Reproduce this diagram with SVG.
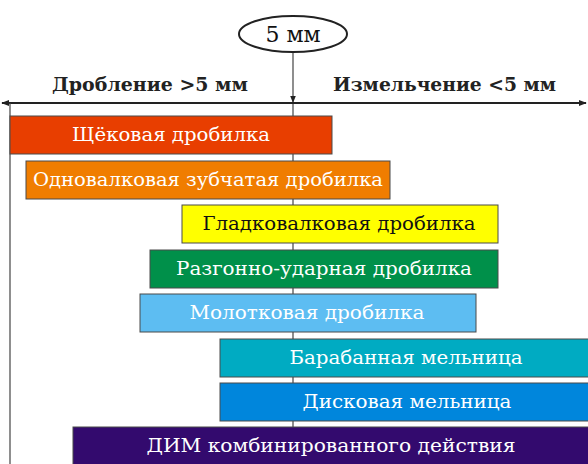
<svg xmlns="http://www.w3.org/2000/svg" width="588" height="464" viewBox="0 0 588 464">
<style>
.bar{stroke:#4a4a4a;stroke-width:1}
.t{font-family:"DejaVu Serif","Liberation Serif",serif;font-size:18px;text-anchor:middle}
.w{fill:#ffffff}
.k{fill:#111111}
.h{font-family:"DejaVu Serif","Liberation Serif",serif;font-size:18px;font-weight:bold;fill:#222}
.ln{stroke:#444;stroke-width:1.2;fill:none}
</style>
<defs>
<marker id="ah" viewBox="0 0 10 10" refX="9" refY="5" markerWidth="8" markerHeight="8" orient="auto-start-reverse" markerUnits="userSpaceOnUse">
<path d="M0,1 L10,5 L0,9 z" fill="#222"/>
</marker>
<marker id="ahs" viewBox="0 0 10 10" refX="10" refY="5" markerWidth="7" markerHeight="7" orient="auto" markerUnits="userSpaceOnUse">
<path d="M0,1 L10,5 L0,9 z" fill="#222"/>
</marker>
</defs>
<g id="connectors">
<line class="ln" x1="293" y1="52" x2="293" y2="103" marker-end="url(#ahs)"/>
<line class="ln" x1="293" y1="103" x2="293" y2="464"/>
<line x1="2" y1="103" x2="586" y2="103" stroke="#222" stroke-width="2" marker-start="url(#ah)" marker-end="url(#ah)"/>
<line class="ln" x1="10" y1="103" x2="10" y2="464"/>
</g>
<g id="threshold">
<ellipse cx="293" cy="34" rx="54" ry="18" fill="#fff" stroke="#222" stroke-width="2"/>
<text x="293" y="42" font-family="DejaVu Serif, Liberation Serif, serif" font-size="22" text-anchor="middle" fill="#111">5 мм</text>
</g>
<g id="labels">
<text class="h" x="52" y="91" textLength="196" lengthAdjust="spacingAndGlyphs">Дробление &gt;5 мм</text>
<text class="h" x="333" y="91" textLength="223" lengthAdjust="spacingAndGlyphs">Измельчение &lt;5 мм</text>
</g>
<g id="n1"><rect class="bar" x="10" y="116" width="322" height="38" fill="#e83e00"/><text class="t w" x="171" y="141" textLength="198" lengthAdjust="spacingAndGlyphs">Щёковая дробилка</text></g>
<g id="n2"><rect class="bar" x="26" y="161" width="364" height="38" fill="#f07d00"/><text class="t w" x="208" y="186" textLength="350" lengthAdjust="spacingAndGlyphs">Одновалковая зубчатая дробилка</text></g>
<g id="n3"><rect class="bar" x="182" y="205" width="316" height="38" fill="#ffff00"/><text class="t k" x="339" y="230" textLength="273" lengthAdjust="spacingAndGlyphs">Гладковалковая дробилка</text></g>
<g id="n4"><rect class="bar" x="150" y="250" width="348" height="38" fill="#00904a"/><text class="t w" x="324" y="275" textLength="296" lengthAdjust="spacingAndGlyphs">Разгонно-ударная дробилка</text></g>
<g id="n5"><rect class="bar" x="140" y="294" width="336" height="38" fill="#5dbdf2"/><text class="t w" x="307" y="319" textLength="235" lengthAdjust="spacingAndGlyphs">Молотковая дробилка</text></g>
<g id="n6"><rect class="bar" x="220" y="339" width="372" height="38" fill="#00abc2"/><text class="t w" x="406" y="364" textLength="233" lengthAdjust="spacingAndGlyphs">Барабанная мельница</text></g>
<g id="n7"><rect class="bar" x="220" y="383" width="372" height="38" fill="#0086dc"/><text class="t w" x="407" y="408" textLength="209" lengthAdjust="spacingAndGlyphs">Дисковая мельница</text></g>
<g id="n8"><rect class="bar" x="73" y="427" width="519" height="40" fill="#330a6e"/><text class="t w" x="331" y="452" textLength="369" lengthAdjust="spacingAndGlyphs">ДИМ комбинированного действия</text></g>
</svg>
